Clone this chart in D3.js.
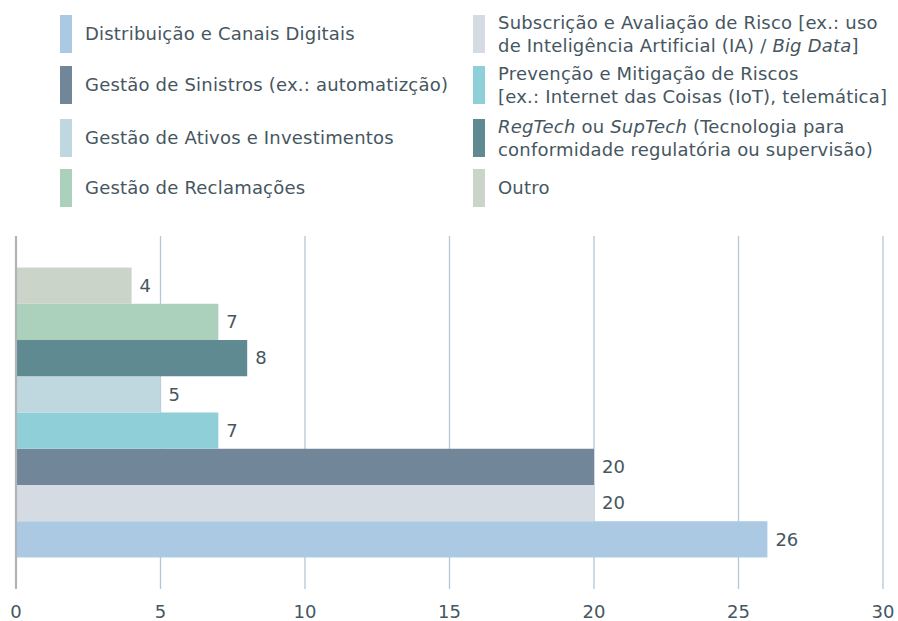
<!DOCTYPE html>
<html>
<head>
<meta charset="utf-8">
<script src="https://cdn.jsdelivr.net/npm/d3@7"></script>
<style>
  body { margin: 0; background: #fff; }
  svg text { font-family: "DejaVu Sans", sans-serif; fill: #46565f; }
</style>
</head>
<body>
<div id="chart"></div>
<script>
// categories in legend order (row by row), bars drawn bottom -> top
var categories = [
  'Distribuição e Canais Digitais',
  'Subscrição e Avaliação de Risco',
  'Gestão de Sinistros',
  'Prevenção e Mitigação de Riscos',
  'Gestão de Ativos e Investimentos',
  'RegTech ou SupTech',
  'Gestão de Reclamações',
  'Outro'
];
var values = [26, 20, 20, 7, 5, 8, 7, 4];
var colors = ['#abc9e3', '#d5dbe3', '#718699', '#8fcfd8', '#bfd8df', '#5f8a91', '#abd1bd', '#cbd4c9'];
var xTicks = [0, 5, 10, 15, 20, 25, 30];

// legend text, one entry per category, lines of [text, italic] pieces
var legendLines = [
  [[['Distribuição e Canais Digitais', false]]],
  [[['Subscrição e Avaliação de Risco [ex.: uso', false]],
   [['de Inteligência Artificial (IA) / ', false], ['Big Data', true], [']', false]]],
  [[['Gestão de Sinistros (ex.: automatizção)', false]]],
  [[['Prevenção e Mitigação de Riscos', false]],
   [['[ex.: Internet das Coisas (IoT), telemática]', false]]],
  [[['Gestão de Ativos e Investimentos', false]]],
  [[['RegTech', true], [' ou ', false], ['SupTech', true], [' (Tecnologia para', false]],
   [['conformidade regulatória ou supervisão)', false]]],
  [[['Gestão de Reclamações', false]]],
  [[['Outro', false]]]
];

var width = 898, height = 621;
var fontSize = 18;

var svg = d3.select('#chart')
  .append('svg')
    .attr('width', width)
    .attr('height', height);

////////////////////////////
// Legend                 //
////////////////////////////

var legendCols = [60, 473];
var legendRows = [15, 66, 119, 169];
var swatchH = 38;
var lineGap = 22.5;

var legend = svg.append('g');
var item = legend.selectAll('g')
    .data(categories)
  .enter().append('g')
    .attr('transform', function(d, i){
      return 'translate(' + legendCols[i % 2] + ',' + legendRows[Math.floor(i / 2)] + ')';
    });

item.append('rect')
    .attr('width', 12)
    .attr('height', swatchH)
    .style('fill', function(d, i){ return colors[i]; });

item.each(function(d, i){
  var lines = legendLines[i];
  var g = d3.select(this);
  var mid = swatchH / 2;
  lines.forEach(function(pieces, li){
    var cy = mid + (li - (lines.length - 1) / 2) * lineGap;
    var t = g.append('text')
        .attr('x', 25)
        .attr('y', cy)
        .attr('dy', '0.35em')
        .style('font-size', fontSize + 'px')
        .style('letter-spacing', '0.2px');
    pieces.forEach(function(p){
      t.append('tspan')
          .text(p[0])
          .style('font-style', p[1] ? 'italic' : 'normal');
    });
  });
});

////////////////////////////
// Bars                   //
////////////////////////////

var x = d3.scaleLinear()
    .domain([0, 30])
    .range([16, 883]);

var y = d3.scaleBand()
    .domain(categories.slice().reverse())
    .range([236, 589])
    .paddingInner(0)
    .paddingOuter(0.87);

// vertical grid lines
svg.append('g').selectAll('line')
    .data(xTicks.slice(1))
  .enter().append('line')
    .attr('x1', function(d){ return x(d); })
    .attr('x2', function(d){ return x(d); })
    .attr('y1', 236)
    .attr('y2', 589)
    .style('stroke', '#b3c7d9')
    .style('stroke-width', 1.3);

svg.append('g').selectAll('rect')
    .data(categories)
  .enter().append('rect')
    .attr('x', x(0))
    .attr('y', function(d){ return y(d); })
    .attr('width', function(d, i){ return x(values[i]) - x(0); })
    .attr('height', y.bandwidth())
    .style('fill', function(d, i){ return colors[i]; });

// zero axis line
svg.append('line')
    .attr('x1', x(0))
    .attr('x2', x(0))
    .attr('y1', 236)
    .attr('y2', 589)
    .style('stroke', '#b1b2ba')
    .style('stroke-width', 2.2);

// value labels
svg.append('g').selectAll('text')
    .data(categories)
  .enter().append('text')
    .attr('x', function(d, i){ return x(values[i]) + 8; })
    .attr('y', function(d){ return y(d) + y.bandwidth() / 2; })
    .attr('dy', '0.35em')
    .style('font-size', fontSize + 'px')
    .text(function(d, i){ return values[i]; });

// tick labels
svg.append('g').selectAll('text')
    .data(xTicks)
  .enter().append('text')
    .attr('x', function(d){ return x(d); })
    .attr('y', 612)
    .attr('dy', '0.35em')
    .attr('text-anchor', 'middle')
    .style('font-size', fontSize + 'px')
    .text(function(d){ return d; });
</script>
</body>
</html>
